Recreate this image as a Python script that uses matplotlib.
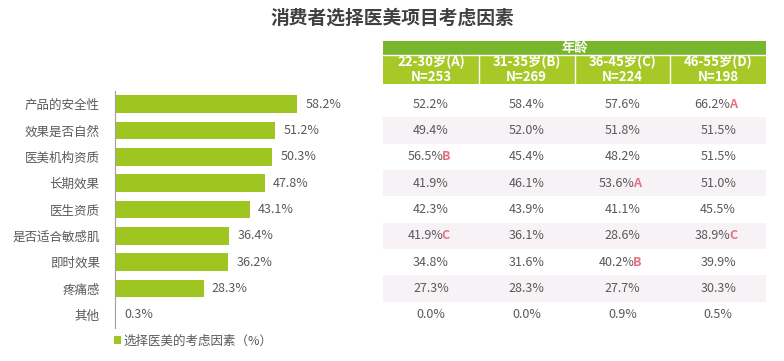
import matplotlib
matplotlib.use('Agg')
import matplotlib.pyplot as plt
from matplotlib.patches import Rectangle
from matplotlib import transforms

plt.rcParams['font.family'] = ['Noto Sans CJK SC', 'DejaVu Sans']

factors = ['产品的安全性', '效果是否自然', '医美机构资质', '长期效果', '医生资质',
           '是否适合敏感肌', '即时效果', '疼痛感', '其他']
overall = [58.2, 51.2, 50.3, 47.8, 43.1, 36.4, 36.2, 28.3, 0.3]

groups = ['22-30岁(A)\nN=253', '31-35岁(B)\nN=269', '36-45岁(C)\nN=224', '46-55岁(D)\nN=198']
group_a = [52.2, 49.4, 56.5, 41.9, 42.3, 41.9, 34.8, 27.3, 0.0]
group_b = [58.4, 52.0, 45.4, 46.1, 43.9, 36.1, 31.6, 28.3, 0.0]
group_c = [57.6, 51.8, 48.2, 53.6, 41.1, 28.6, 40.2, 27.7, 0.9]
group_d = [66.2, 51.5, 51.5, 51.0, 45.5, 38.9, 39.9, 30.3, 0.5]
# significance letters per column
sig_a = ['', '', 'B', '', '', 'C', '', '', '']
sig_b = ['', '', '', '', '', '', '', '', '']
sig_c = ['', '', '', 'A', '', '', 'B', '', '']
sig_d = ['A', '', '', '', '', 'C', '', '', '']

green = '#9fc520'
head_dark = '#78b62e'
head_light = '#a6c928'
txt = '#595959'
pink = '#e8717f'
W, H = 784, 361

fig = plt.figure(figsize=(7.84, 3.61), dpi=100)
fig.text(0.5, 1 - 18 / H, '消费者选择医美项目考虑因素', ha='center', va='center',
         fontsize=13.5, fontweight='bold', color='#404040')

# bar chart
ax = fig.add_axes([115 / W, 1 - 328 / H, 260 / W, 237 / H])
rows = list(range(len(factors)))
ax.barh(rows, overall, height=0.66, color=green, label='选择医美的考虑因素（%）')
ax.set_xlim(0, 260 / 3.13)
ax.set_ylim(8.5, -0.5)
ax.set_yticks(rows)
ax.set_yticklabels(factors, fontsize=9, color=txt)
ax.tick_params(axis='y', length=0, pad=11)
ax.set_xticks([])
for s in ['top', 'right', 'bottom']:
    ax.spines[s].set_visible(False)
ax.spines['left'].set_color('#a0a0a0')
ax.spines['left'].set_linewidth(0.8)
for r, v in zip(rows, overall):
    ax.annotate(f'{v:.1f}%', (v, r), xytext=(6, 0), textcoords='offset points',
                va='center', ha='left', fontsize=9, color=txt)
ax.legend(loc='upper left', bbox_to_anchor=(-0.005, -0.027), frameon=False,
          fontsize=9, handlelength=0.6, handleheight=0.6, handletextpad=0.15,
          borderpad=0, borderaxespad=0, labelcolor=txt)

# table
top_data = -0.5 - (91 - 41) / 26.33
tax = fig.add_axes([383 / W, 1 - 328 / H, 383 / W, 287 / H])
tax.set_xlim(0, 4)
tax.set_ylim(8.5, top_data)
tax.axis('off')
year_bot = -0.5 - (91 - 55) / 26.33
head_bot = -0.5 - (91 - 84) / 26.33
tax.add_patch(Rectangle((0, top_data), 4, year_bot - top_data, color=head_dark, lw=0))
tax.add_patch(Rectangle((0, year_bot), 4, head_bot - year_bot, color=head_light, lw=0))
tax.plot([0, 4], [year_bot, year_bot], color='white', lw=1)
for c in range(1, 4):
    tax.plot([c, c], [year_bot, head_bot], color='white', lw=1)
tax.text(2, (top_data + year_bot) / 2, '年龄', ha='center', va='center',
         color='white', fontsize=9.5, fontweight='bold')
for c, g in enumerate(groups):
    tax.text(c + 0.5, (year_bot + head_bot) / 2, g, ha='center', va='center',
             color='white', fontsize=9.5, fontweight='bold', linespacing=1.05)

for r in rows:
    if r % 2 == 1:
        tax.add_patch(Rectangle((0, r - 0.5), 4, 1, color='#f6f2f5', lw=0))

cols = [(group_a, sig_a), (group_b, sig_b), (group_c, sig_c), (group_d, sig_d)]
for c, (vals, sigs) in enumerate(cols):
    for r, (v, s) in enumerate(zip(vals, sigs)):
        if s:
            tr = transforms.offset_copy(tax.transData, fig=fig, x=-4, y=0, units='points')
            t = tax.text(c + 0.5, r, f'{v:.1f}%', ha='center', va='center',
                         fontsize=9, color=txt, transform=tr)
            tax.annotate(s, xy=(1, 0), xycoords=t, xytext=(-1, 0),
                         textcoords='offset points', ha='left', va='bottom',
                         fontsize=9, color=pink, fontweight='bold')
        else:
            tax.text(c + 0.5, r, f'{v:.1f}%', ha='center', va='center',
                     fontsize=9, color=txt)

fig.savefig('out.png', dpi=100)
